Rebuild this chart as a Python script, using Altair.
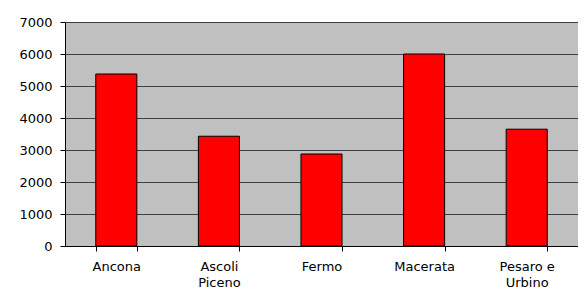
import altair as alt
import pandas as pd

provinces = ["Ancona", "Ascoli Piceno", "Fermo", "Macerata", "Pesaro e Urbino"]
values = [5375, 3430, 2875, 6000, 3650]
y_ticks = [0, 1000, 2000, 3000, 4000, 5000, 6000, 7000]

df = pd.DataFrame({"provincia": provinces, "valore": values})

label_expr = (
    "datum.label == 'Ascoli Piceno' ? ['Ascoli', 'Piceno'] : "
    "datum.label == 'Pesaro e Urbino' ? ['Pesaro e', 'Urbino'] : datum.label"
)

chart = (
    alt.Chart(df)
    .mark_bar(color="#FF0000", stroke="#000000", strokeWidth=1)
    .encode(
        x=alt.X(
            "provincia:N",
            sort=provinces,
            title=None,
            scale=alt.Scale(paddingInner=0.6, paddingOuter=0.3),
            axis=alt.Axis(
                labelAngle=0,
                labelExpr=label_expr,
                labelFont="DejaVu Sans",
                labelFontSize=13,
                labelColor="#000000",
                labelPadding=15,
                labelLineHeight=16,
                labelBaseline="middle",
                tickBand="extent",
                tickSize=5,
                tickColor="#000000",
                domainColor="#000000",
                grid=False,
            ),
        ),
        y=alt.Y(
            "valore:Q",
            title=None,
            scale=alt.Scale(domain=[0, 7000]),
            axis=alt.Axis(
                values=y_ticks,
                format="d",
                labelFont="DejaVu Sans",
                labelFontSize=13,
                labelColor="#000000",
                labelPadding=8,
                tickSize=5,
                tickColor="#000000",
                domainColor="#000000",
                gridColor="#404040",
                gridOpacity=1,
                gridWidth=1,
            ),
        ),
    )
    .properties(
        width=513,
        height=224,
        autosize=alt.AutoSizeParams(type="none"),
        padding={"left": 57, "top": 14, "right": 0, "bottom": 49},
        background="#FFFFFF",
    )
    .configure_view(fill="#C0C0C0", stroke="#808080", strokeWidth=1)
)

chart.save("out.html", embed_options={"renderer": "svg", "actions": False})
